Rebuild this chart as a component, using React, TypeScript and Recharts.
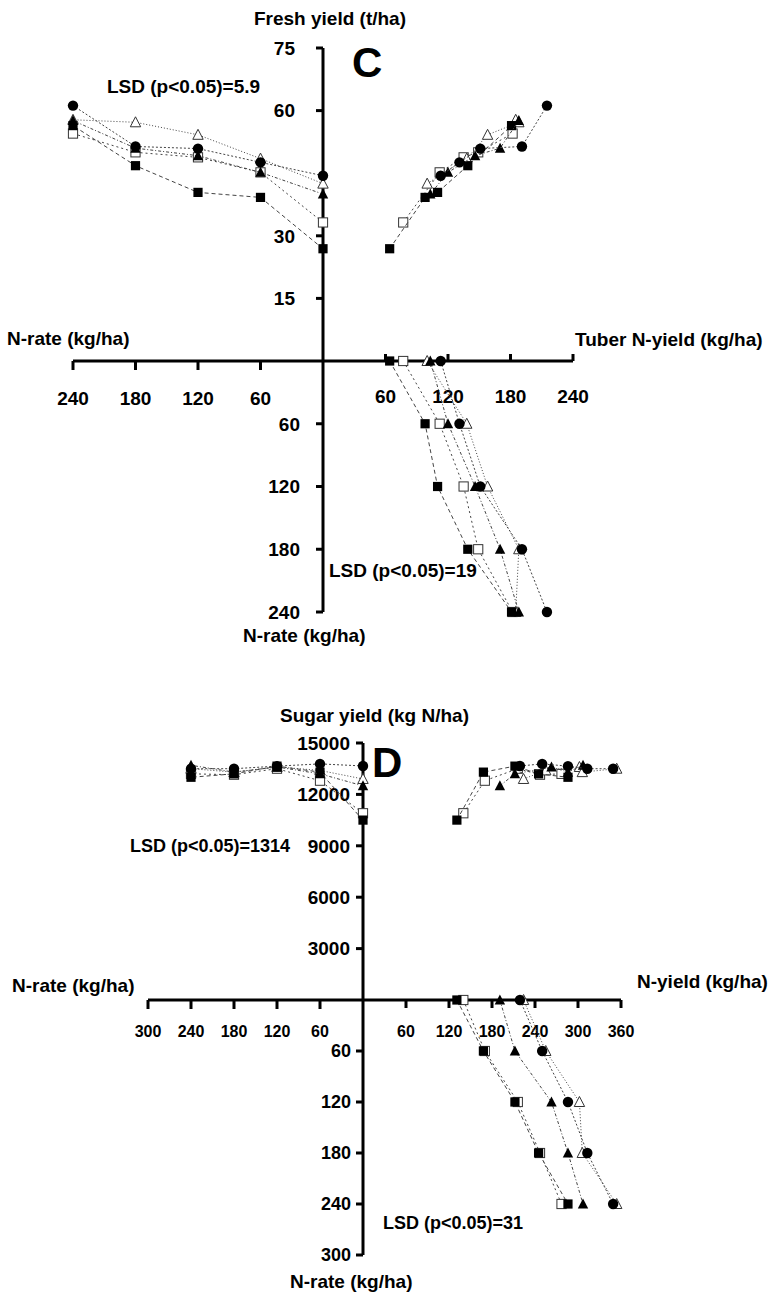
import { ScatterChart, Scatter, XAxis, YAxis } from "recharts"

const FONT = '"Liberation Sans", Arial, Helvetica, sans-serif'

// N-rate levels (kg/ha), shared by every series
const nRates = [0, 60, 120, 180, 240]

// series order: open square, open triangle, filled square, filled triangle, filled circle
const markerKinds = ["openSquare", "openTriangle", "filledSquare", "filledTriangle", "filledCircle"]
const dashes = ["2 3", "1 2", "4 3", "3 2 1 2", "2 2"]

// panel C
const cFreshYield = [
  [33.2, 45.2, 48.8, 50.0, 54.5],
  [42.5, 48.5, 54.2, 57.2, 57.8],
  [26.9, 39.2, 40.4, 46.8, 56.4],
  [40.0, 45.2, 49.2, 51.0, 57.6],
  [44.4, 47.6, 50.9, 51.4, 61.2],
]
const cTuberNYield = [
  [77, 112, 135, 149, 182],
  [100, 138, 158, 188, 185],
  [64, 98, 110, 139, 181],
  [103, 120, 146, 170, 188],
  [113, 131, 151, 191, 215],
]

// panel D
const dSugarYield = [
  [10900, 12800, 13500, 13150, 13200],
  [12900, 13400, 13600, 13300, 13500],
  [10500, 13300, 13650, 13200, 13000],
  [12500, 13200, 13600, 13300, 13700],
  [13660, 13780, 13650, 13500, 13500],
]
const dNYield = [
  [140, 170, 216, 247, 277],
  [224, 255, 302, 306, 354],
  [131, 168, 212, 245, 286],
  [191, 212, 263, 286, 307],
  [219, 250, 286, 313, 349],
]

// tick labels
const cRateTicks = [60, 120, 180, 240]
const cYieldTicks = [15, 30, 60, 75]
const cNYieldTicks = [60, 120, 180, 240]
const dRateTicksLeft = [60, 120, 180, 240, 300]
const dSugarTicks = [3000, 6000, 9000, 12000, 15000]
const dNYieldTicks = [60, 120, 180, 240, 300, 360]
const dRateTicksDown = [60, 120, 180, 240, 300]

type Pt = { x: number; y: number }

const build = (xs: number[][] | null, ys: number[][] | null, xRate: boolean, yRate: boolean): Pt[][] =>
  markerKinds.map((_, i) =>
    nRates.map((n, j) => ({
      x: xRate ? n : (xs as number[][])[i][j],
      y: yRate ? n : (ys as number[][])[i][j],
    }))
  )

function Marker({ cx, cy, kind }: { cx: number; cy: number; kind: string }) {
  const s = 4.6
  if (kind === "filledCircle") return <circle cx={cx} cy={cy} r={5.2} fill="#000" />
  if (kind === "filledSquare") return <rect x={cx - s} y={cy - s} width={2 * s} height={2 * s} fill="#000" />
  if (kind === "openSquare")
    return <rect x={cx - s} y={cy - s} width={2 * s} height={2 * s} fill="#fff" stroke="#333" strokeWidth={1} />
  const pts = `${cx},${cy - 5.5} ${cx + 5.2},${cy + 4.5} ${cx - 5.2},${cy + 4.5}`
  if (kind === "filledTriangle") return <polygon points={pts} fill="#000" />
  return <polygon points={pts} fill="#fff" stroke="#333" strokeWidth={1} />
}

const bottomTick = (len: number, dir: number, dy: number, size: number) => (props: any) => {
  const { x, y, payload } = props
  return (
    <g>
      <line x1={x} y1={y} x2={x} y2={y + dir * len} stroke="#000" strokeWidth={3} />
      <text x={x} y={y + dy} textAnchor="middle" fontSize={size} fontWeight="bold" fontFamily={FONT} fill="#000">
        {payload.value}
      </text>
    </g>
  )
}

const leftTick = (len: number, off: number, size: number) => (props: any) => {
  const { x, y, payload } = props
  return (
    <g>
      <line x1={x} y1={y} x2={x - len} y2={y} stroke="#000" strokeWidth={3} />
      <text x={x - off} y={y + size * 0.36} textAnchor="end" fontSize={size} fontWeight="bold" fontFamily={FONT} fill="#000">
        {payload.value}
      </text>
    </g>
  )
}

const P = 70
const axisStyle = { stroke: "#000", strokeWidth: 3 }

interface QuadProps {
  left: number
  top: number
  width: number
  height: number
  xDomain: [number, number]
  yDomain: [number, number]
  xReversed?: boolean
  yReversed?: boolean
  xTicks?: number[]
  yTicks?: number[]
  xTick?: (p: any) => any
  yTick?: (p: any) => any
  series: Pt[][]
}

function Quadrant({ left, top, width, height, xDomain, yDomain, xReversed, yReversed, xTicks, yTicks, xTick, yTick, series }: QuadProps) {
  return (
    <div style={{ position: "absolute", left: left - P, top: top - P }}>
      <ScatterChart width={width + 2 * P} height={height + 2 * P} margin={{ top: P, right: P, bottom: 0, left: 0 }}>
        <XAxis
          type="number"
          dataKey="x"
          domain={xDomain}
          reversed={xReversed}
          height={P}
          ticks={xTicks ?? []}
          interval={0}
          tickSize={0}
          tickMargin={0}
          tickLine={false}
          axisLine={xTicks ? axisStyle : false}
          tick={xTicks ? xTick : false}
        />
        <YAxis
          type="number"
          dataKey="y"
          domain={yDomain}
          reversed={yReversed}
          width={P}
          ticks={yTicks ?? []}
          interval={0}
          tickSize={0}
          tickMargin={0}
          tickLine={false}
          axisLine={yTicks ? axisStyle : false}
          tick={yTicks ? yTick : false}
        />
        {series.map((data, i) => (
          <Scatter
            key={i}
            data={data}
            line={{ stroke: "#444", strokeWidth: 1, strokeDasharray: dashes[i] }}
            lineType="joint"
            shape={(p: any) => <Marker cx={p.cx} cy={p.cy} kind={markerKinds[i]} />}
            isAnimationActive={false}
          />
        ))}
      </ScatterChart>
    </div>
  )
}

const T = ({ x, y, size = 19, anchor = "start", children }: any) => (
  <text x={x} y={y} fontSize={size} fontWeight="bold" fontFamily={FONT} textAnchor={anchor} fill="#000">
    {children}
  </text>
)

export default function App() {
  const cLeft = build(null, cFreshYield, true, false)
  const cTopRight = build(cTuberNYield, cFreshYield, false, false)
  const cDown = build(cTuberNYield, null, false, true)
  const dLeft = build(null, dSugarYield, true, false)
  const dTopRight = build(dNYield, dSugarYield, false, false)
  const dDown = build(dNYield, null, false, true)

  return (
    <div style={{ position: "absolute", left: 0, top: 0, width: 773, height: 1298, background: "#fff", overflow: "hidden" }}>
      {/* panel C */}
      <Quadrant
        left={323} top={48} width={250} height={313}
        xDomain={[0, 240]} yDomain={[0, 75]}
        xTicks={cNYieldTicks} xTick={bottomTick(7, -1, 42, 19)}
        yTicks={cYieldTicks} yTick={leftTick(7, 28, 19)}
        series={cTopRight}
      />
      <Quadrant
        left={73} top={48} width={250} height={313}
        xDomain={[0, 240]} xReversed yDomain={[0, 75]}
        xTicks={cRateTicks} xTick={bottomTick(9, 1, 44, 19)}
        series={cLeft}
      />
      <Quadrant
        left={323} top={361} width={250} height={251}
        xDomain={[0, 240]} yDomain={[0, 240]} yReversed
        yTicks={cRateTicks} yTick={leftTick(7, 23, 19)}
        series={cDown}
      />

      {/* panel D */}
      <Quadrant
        left={363} top={743} width={258} height={257}
        xDomain={[0, 360]} yDomain={[0, 15000]}
        xTicks={dNYieldTicks} xTick={bottomTick(8, 1, 37, 16)}
        yTicks={dSugarTicks} yTick={leftTick(7, 13, 19)}
        series={dTopRight}
      />
      <Quadrant
        left={148} top={743} width={215} height={257}
        xDomain={[0, 300]} xReversed yDomain={[0, 15000]}
        xTicks={dRateTicksLeft} xTick={bottomTick(9, 1, 37, 16)}
        series={dLeft}
      />
      <Quadrant
        left={363} top={1000} width={258} height={255}
        xDomain={[0, 360]} yDomain={[0, 300]} yReversed
        yTicks={dRateTicksDown} yTick={leftTick(7, 12, 18)}
        series={dDown}
      />

      <svg width={773} height={1298} style={{ position: "absolute", left: 0, top: 0, pointerEvents: "none" }}>
        <T x={330} y={25} anchor="middle">Fresh yield (t/ha)</T>
        <T x={352} y={77} size={42}>C</T>
        <T x={107} y={93}>LSD (p&lt;0.05)=5.9</T>
        <T x={7} y={345}>N-rate (kg/ha)</T>
        <T x={575} y={346}>Tuber N-yield (kg/ha)</T>
        <T x={329} y={577}>LSD (p&lt;0.05)=19</T>
        <T x={243} y={642}>N-rate (kg/ha)</T>

        <T x={280} y={722}>Sugar yield (kg N/ha)</T>
        <T x={372} y={777} size={42}>D</T>
        <T x={130} y={852} size={18}>LSD (p&lt;0.05)=1314</T>
        <T x={12} y={992}>N-rate (kg/ha)</T>
        <T x={637} y={988}>N-yield (kg/ha)</T>
        <T x={383} y={1229} size={18}>LSD (p&lt;0.05)=31</T>
        <T x={290} y={1288}>N-rate (kg/ha)</T>
      </svg>
    </div>
  )
}
